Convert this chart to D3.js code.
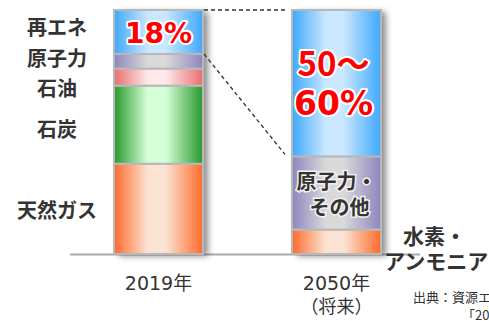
<!DOCTYPE html>
<html>
<head>
<meta charset="utf-8">
<script src="https://cdn.jsdelivr.net/npm/d3@7"></script>
<style>
  html, body { margin: 0; padding: 0; background: #fff; }
  svg { display: block; font-family: "Noto Sans CJK JP", "Noto Sans", sans-serif; }
</style>
</head>
<body>
<svg id="chart" width="489" height="321"></svg>
<script>
// Power generation mix (%), stacked bottom to top
const years = ["2019年", "2050年"];
const sources2019 = ["天然ガス", "石炭", "石油", "原子力", "再エネ"];
const values2019 = [37, 32, 7, 6, 18];
const sources2050 = ["水素・アンモニア", "原子力・その他", "再エネ"];
const values2050 = [10, 30, 60];
const shareLabels = ["18%", "50～60%"];

// Gradient colours per source: [edge, centre]
const palette = {
  "再エネ": ["#3ea8fb", "#c9e7ff"],
  "原子力": ["#8f85bf", "#d9d9d9"],
  "原子力・その他": ["#8f85bf", "#d9d9d9"],
  "石油": ["#e96e6e", "#fde9e9"],
  "石炭": ["#27982a", "#d6ffd8"],
  "天然ガス": ["#ff6a2b", "#fbe3d3"],
  "水素・アンモニア": ["#ff6a2b", "#fbe3d3"]
};

const svg = d3.select("#chart");
const x = d3.scaleBand().domain(years).range([25, 470]).paddingInner(0.5).paddingOuter(0.5);
const y = d3.scaleLinear().domain([0, 100]).range([254, 10]);

const defs = svg.append("defs");
Object.entries(palette).forEach(([k, c], i) => {
  const g = defs.append("linearGradient").attr("id", "g" + i)
    .attr("x1", "0%").attr("x2", "100%").attr("y1", "0%").attr("y2", "0%");
  g.append("stop").attr("offset", "0%").attr("stop-color", c[0]);
  g.append("stop").attr("offset", "38%").attr("stop-color", c[1]);
  g.append("stop").attr("offset", "58%").attr("stop-color", c[1]);
  g.append("stop").attr("offset", "100%").attr("stop-color", c[0]);
  palette[k].id = "g" + i;
});
const shadow = defs.append("filter").attr("id", "shadow")
  .attr("x", "-20%").attr("y", "-10%").attr("width", "150%").attr("height", "120%");
shadow.append("feDropShadow").attr("dx", 5).attr("dy", 2).attr("stdDeviation", 3)
  .attr("flood-color", "#000").attr("flood-opacity", 0.45);

// Baseline
svg.append("line").attr("x1", 70).attr("x2", 420).attr("y1", y(0) + 0.5).attr("y2", y(0) + 0.5)
  .attr("stroke", "#a9a9a9").attr("stroke-width", 2);

function stack(year, names, vals) {
  let acc = 0;
  return names.map((n, i) => {
    const s = { year, name: n, v0: acc, v1: acc + vals[i] };
    acc += vals[i];
    return s;
  });
}
const segs = stack(years[0], sources2019, values2019).concat(stack(years[1], sources2050, values2050));

// Bar shadows
years.forEach(yr => {
  svg.append("rect").attr("x", x(yr)).attr("y", y(100)).attr("width", x.bandwidth())
    .attr("height", y(0) - y(100)).attr("fill", "#bbb").attr("filter", "url(#shadow)");
});

svg.append("g").selectAll("rect").data(segs).join("rect")
  .attr("x", d => x(d.year))
  .attr("y", d => y(d.v1))
  .attr("width", x.bandwidth())
  .attr("height", d => y(d.v0) - y(d.v1))
  .attr("fill", d => `url(#${palette[d.name].id})`)
  .attr("stroke", "#b8b8b8").attr("stroke-width", 2);

// Connector lines between the renewable segments
const b0 = x(years[0]) + x.bandwidth() + 1;
const b1 = x(years[1]) - 7;
const dash = svg.append("g").attr("stroke", "#333").attr("stroke-width", 1.3).attr("stroke-dasharray", "4,3");
dash.append("line").attr("x1", b0).attr("x2", b1).attr("y1", y(100)).attr("y2", y(100));
dash.append("line").attr("x1", b0).attr("x2", b1)
  .attr("y1", y(100 - values2019[4])).attr("y2", y(100 - values2050[2]) - 2);

// Source labels for 2019
const labelY = { "再エネ": 28, "原子力": 59, "石油": 89, "石炭": 130, "天然ガス": 211 };
svg.append("g").selectAll("text").data(sources2019).join("text")
  .attr("x", 57).attr("y", d => labelY[d]).attr("dy", "0.36em")
  .attr("text-anchor", "middle").attr("font-size", 20).attr("font-weight", "bold")
  .attr("fill", "#333").text(d => d);

// Share labels in red with a white halo
const cx0 = x(years[0]) + x.bandwidth() / 2;
const cx1 = x(years[1]) + x.bandwidth() / 2;
function halo(sel) {
  return sel.attr("stroke", "#fff").attr("stroke-width", 4).attr("stroke-linejoin", "round")
    .attr("paint-order", "stroke");
}
halo(svg.append("text").attr("x", cx0).attr("y", 33).attr("dy", "0.36em")
  .attr("text-anchor", "middle").attr("font-size", 28).attr("font-weight", "bold")
  .attr("font-family", "'DejaVu Sans', sans-serif")
  .attr("fill", "#ff0000").text(shareLabels[0]));
const big = shareLabels[1].split("～");
halo(svg.append("text").attr("x", cx1 - 3).attr("y", 64).attr("dy", "0.36em")
  .attr("text-anchor", "middle").attr("font-size", 33).attr("font-weight", "bold")
  .attr("fill", "#ff0000").text(big[0] + "～"));
halo(svg.append("text").attr("x", cx1 - 3).attr("y", 103).attr("dy", "0.36em")
  .attr("text-anchor", "middle").attr("font-size", 33).attr("font-weight", "bold")
  .attr("font-family", "'DejaVu Sans', sans-serif")
  .attr("fill", "#ff0000").text(big[1]));

// Labels inside / beside the 2050 bar
const inner = ["原子力・", "その他"];
svg.append("g").selectAll("text").data(inner).join("text")
  .attr("x", (d, i) => i ? cx1 + 3 : cx1)
  .attr("y", (d, i) => 182 + i * 26).attr("dy", "0.36em")
  .attr("text-anchor", "middle").attr("font-size", 20).attr("font-weight", "bold")
  .attr("fill", "#333")
  .attr("stroke", "#f2f2f2").attr("stroke-width", 3).attr("paint-order", "stroke")
  .text(d => d);
const side = ["水素・", "アンモニア"];
svg.append("g").selectAll("text").data(side).join("text")
  .attr("x", (d, i) => i ? 384 : 403)
  .attr("y", (d, i) => 236 + i * 25).attr("dy", "0.36em")
  .attr("font-size", 21).attr("font-weight", "bold")
  .attr("fill", "#333").text(d => d);

// Year labels
const yearFont = "'DejaVu Sans', 'Noto Sans CJK JP', sans-serif";
svg.append("text").attr("x", cx0).attr("y", 283).attr("dy", "0.36em")
  .attr("text-anchor", "middle").attr("font-size", 19).attr("font-family", yearFont)
  .attr("fill", "#333").text(years[0]);
svg.append("text").attr("x", cx1).attr("y", 283).attr("dy", "0.36em")
  .attr("text-anchor", "middle").attr("font-size", 19).attr("font-family", yearFont)
  .attr("fill", "#333").text(years[1]);
svg.append("text").attr("x", cx1).attr("y", 307).attr("dy", "0.36em")
  .attr("text-anchor", "middle").attr("font-size", 18).attr("fill", "#333").text("（将来）");

// Source note
svg.append("text").attr("x", 413).attr("y", 297).attr("dy", "0.36em")
  .attr("font-size", 13).attr("fill", "#333").text("出典：資源エネルギー庁");
svg.append("text").attr("x", 462).attr("y", 315).attr("dy", "0.36em")
  .attr("font-size", 13).attr("fill", "#333").text("「2050年カーボンニュートラル」");
</script>
</body>
</html>
